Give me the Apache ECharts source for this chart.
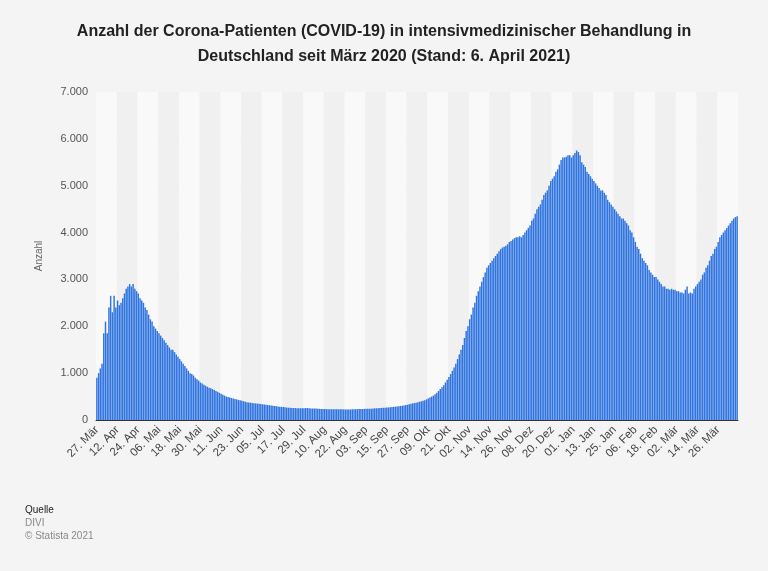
<!DOCTYPE html>
<html><head><meta charset="utf-8">
<script src="https://cdn.jsdelivr.net/npm/echarts@6/dist/echarts.min.js"></script>
<style>html,body{margin:0;padding:0;background:#f4f4f4}#c{width:768px;height:571px}</style>
</head><body><div id="c"></div>
<script>
const titleText = "Anzahl der Corona-Patienten (COVID-19) in intensivmedizinischer Behandlung in\nDeutschland seit März 2020 (Stand: 6. April 2021)";
const monthNames = ["Jan","Feb","Mär","Apr","Mai","Jun","Jul","Aug","Sep","Okt","Nov","Dez"];
const firstLabel = "27. Mär";
const yTicks = [0,1000,2000,3000,4000,5000,6000,7000];
// values per month (31 Mar 2020 – 6 Apr 2021)
const mar2020 = [900];
const apr2020 = [1000,1100,1200,1850,2100,1850,2400,2650,2300,2650,2400,2550,2450,2500,2600,2700,2800,2850,2900,2850,2900,2800,2750,2700,2600,2550,2500,2400,2350,2250];
const may2020 = [2150,2100,2000,1950,1900,1850,1800,1750,1700,1650,1600,1550,1500,1500,1450,1400,1350,1300,1250,1200,1150,1100,1050,1000,980,950,900,870,840,800,780];
const jun2020 = [750,730,710,690,680,660,640,620,600,580,560,540,520,500,490,480,470,460,450,440,430,420,410,400,390,380,375,370,365,360];
const jul2020 = [355,350,345,340,335,330,325,320,315,310,305,300,295,290,285,280,275,270,265,262,260,258,255,255,253,252,250,250,252,255,255];
const aug2020 = [250,248,245,245,243,240,238,235,235,235,233,232,230,230,230,232,230,228,228,227,225,225,225,225,225,228,230,230,232,235,235];
const sep2020 = [235,237,238,240,240,242,245,248,250,252,255,258,260,262,265,268,270,275,280,285,290,295,300,305,310,318,325,335,345,355];
const oct2020 = [362,370,380,390,400,410,420,440,460,480,500,520,550,580,620,660,700,740,800,860,920,980,1050,1120,1200,1300,1400,1500,1600,1750,1900];
const nov2020 = [2000,2150,2250,2400,2500,2650,2750,2850,2950,3050,3150,3250,3300,3350,3400,3450,3500,3550,3600,3650,3680,3700,3720,3750,3800,3820,3850,3880,3900,3900];
const dec2020 = [3920,3900,3950,4000,4050,4100,4150,4250,4300,4400,4500,4550,4600,4700,4800,4850,4900,5000,5100,5150,5200,5300,5350,5450,5550,5600,5600,5620,5650,5650,5600];
const jan2021 = [5650,5700,5750,5720,5650,5500,5450,5400,5300,5250,5200,5150,5100,5050,5000,4950,4900,4900,4850,4800,4700,4650,4600,4550,4500,4450,4400,4350,4300,4300,4250];
const feb2021 = [4200,4150,4050,4000,3900,3800,3700,3650,3550,3450,3400,3350,3300,3200,3150,3100,3050,3050,3000,2950,2900,2850,2850,2800,2800,2780,2800,2780];
const mar2021 = [2780,2750,2750,2720,2720,2700,2780,2850,2700,2720,2700,2800,2850,2900,2950,3000,3100,3150,3250,3300,3400,3500,3550,3650,3700,3800,3900,3950,4000,4050,4100];
const apr2021 = [4150,4200,4250,4300,4330,4350];
const values = [].concat(mar2020,apr2020,may2020,jun2020,jul2020,aug2020,sep2020,oct2020,nov2020,dec2020,jan2021,feb2021,mar2021,apr2021);
const categories = [];
{ let d = new Date(Date.UTC(2020,2,31));
  for (let i=0;i<values.length;i++){ categories.push(String(d.getUTCDate()).padStart(2,'0')+". "+monthNames[d.getUTCMonth()]); d.setUTCDate(d.getUTCDate()+1);} }
categories[0] = firstLabel;

const chart = echarts.init(document.getElementById('c'));
chart.setOption({
  backgroundColor:'#f4f4f4',
  animation:false,
  title:{text:titleText,left:'center',top:14,textStyle:{fontFamily:'Liberation Sans',fontSize:16,fontWeight:'bold',color:'#222',lineHeight:25}},
  grid:{left:96,right:30,top:92,bottom:151},
  xAxis:{type:'category',data:categories,
    axisTick:{show:false},axisLine:{lineStyle:{color:'#333'}},
    splitArea:{show:true,interval:11,areaStyle:{color:['#f9f9f9','#f0f0f0']}},
    axisLabel:{interval:11,rotate:45,color:'#444',fontFamily:'Liberation Sans',fontSize:11.5,margin:8}},
  yAxis:{type:'value',min:0,max:7000,interval:1000,name:'Anzahl',nameLocation:'middle',nameGap:52,
    nameTextStyle:{color:'#666',fontFamily:'Liberation Sans',fontSize:10},
    axisLabel:{color:'#555',fontFamily:'Liberation Sans',fontSize:11,formatter:v=>v.toLocaleString('de-DE')},
    splitLine:{lineStyle:{color:'#ccc',type:'dotted'}}},
  series:[{type:'bar',data:values,barCategoryGap:'15%',itemStyle:{color:'#2f74e0'}}],
  graphic:[
    {type:'text',left:25,top:505,style:{text:'Quelle',fontFamily:'Liberation Sans',fontSize:10,fill:'#222'}},
    {type:'text',left:25,top:518,style:{text:'DIVI',fontFamily:'Liberation Sans',fontSize:10,fill:'#888'}},
    {type:'text',left:25,top:531,style:{text:'© Statista 2021',fontFamily:'Liberation Sans',fontSize:10,fill:'#888'}}
  ]
});
</script></body></html>
